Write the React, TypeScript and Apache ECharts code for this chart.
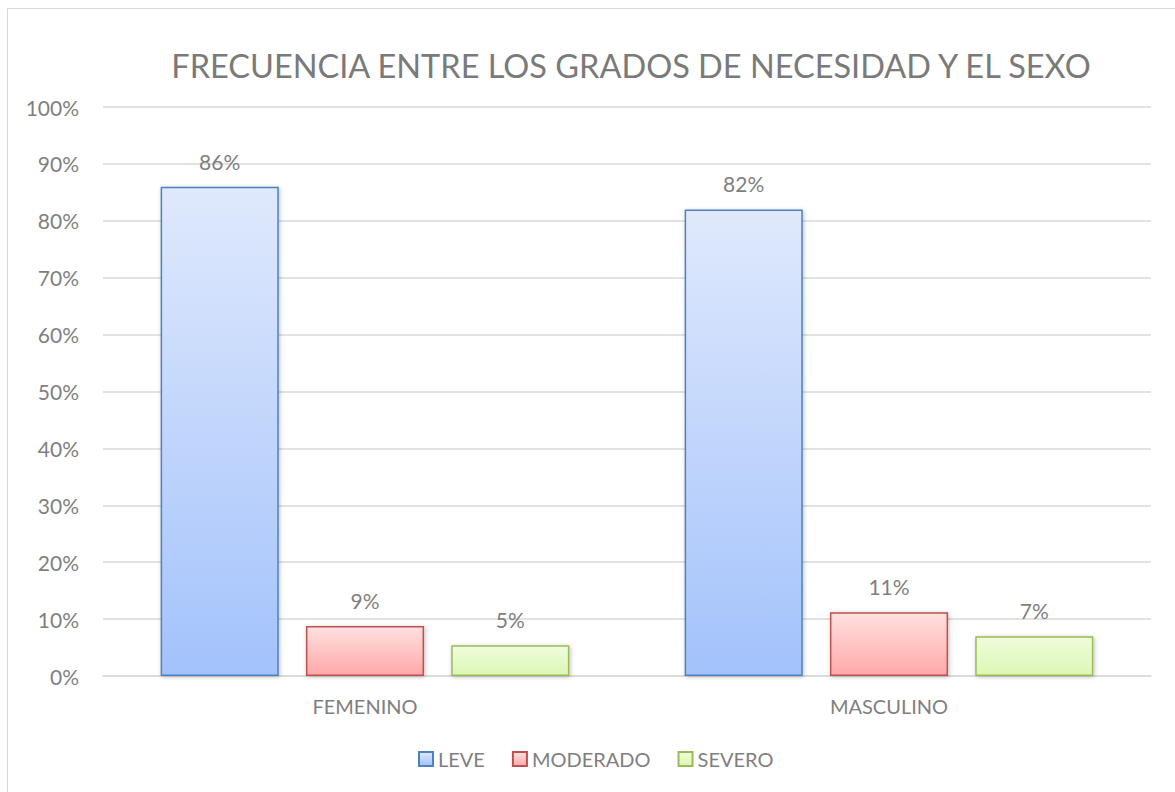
import React, { useEffect, useRef } from "react";
import * as echarts from "echarts";

const categories = ["FEMENINO", "MASCULINO"];
const leve = [86, 82];
const moderado = [8.8, 11.2];
const severo = [5.4, 7.0];
const yTicks = [0, 10, 20, 30, 40, 50, 60, 70, 80, 90, 100];
const title = "FRECUENCIA ENTRE LOS GRADOS DE NECESIDAD Y EL SEXO";

const FONT = "Lato, 'Open Sans', sans-serif";

function grad(top: string, bottom: string) {
  return new echarts.graphic.LinearGradient(0, 0, 0, 1, [
    { offset: 0, color: top },
    { offset: 1, color: bottom },
  ]);
}

export default function App() {
  const ref = useRef<HTMLDivElement>(null);
  useEffect(() => {
    if (!ref.current) return;
    const chart = echarts.init(ref.current, undefined, { renderer: "svg" });
    const label = {
      show: true,
      position: "top",
      distance: 15,
      color: "#7f7f7f",
      fontSize: 21,
      fontFamily: FONT,
      formatter: (p: any) => Math.round(p.value) + "%",
    };
    const shadow = {
      shadowBlur: 4,
      shadowColor: "rgba(0,0,0,0.25)",
      shadowOffsetX: 1,
      shadowOffsetY: 1,
    };
    const mk = (name: string, data: number[], top: string, bottom: string, border: string) => ({
      name,
      type: "bar",
      data,
      barGap: "23%",
      barCategoryGap: "22%",
      label,
      itemStyle: { color: grad(top, bottom), borderColor: border, borderWidth: 1.5, ...shadow },
    });
    chart.setOption({
      animation: false,
      backgroundColor: "#ffffff",
      title: {
        text: title,
        left: 626,
        textAlign: "center",
        top: 44,
        textStyle: { color: "#7a7a7a", fontSize: 32.5, fontWeight: "normal", fontFamily: FONT },
      },
      graphic: [
        {
          type: "rect",
          shape: { x: 7.5, y: 8.5, width: 1200, height: 800 },
          style: { fill: "none", stroke: "#d9d9d9", lineWidth: 1 },
          silent: true,
        },
      ],
      legend: {
        top: 749,
        left: 418,
        padding: 0,
        itemWidth: 14,
        itemHeight: 14,
        itemGap: 27,
        icon: "rect",
        textStyle: { color: "#7f7f7f", fontSize: 20, fontFamily: FONT },
      },
      grid: { left: 103, right: 24, top: 107, bottom: 116 },
      xAxis: {
        type: "category",
        data: categories,
        axisLine: { show: true, lineStyle: { color: "#d9d9d9", width: 1.5 } },
        axisTick: { show: false },
        axisLabel: { color: "#7f7f7f", fontSize: 20, fontFamily: FONT, margin: 20 },
      },
      yAxis: {
        type: "value",
        min: yTicks[0],
        max: yTicks[yTicks.length - 1],
        interval: 10,
        axisLine: { show: false },
        axisTick: { show: false },
        splitLine: { lineStyle: { color: "#d9d9d9", width: 1.5 } },
        axisLabel: { color: "#7f7f7f", fontSize: 21, fontFamily: FONT, margin: 24, formatter: "{value}%" },
      },
      series: [
        mk("LEVE", leve, "#dfe9fc", "#a3c2fb", "#4f81bd"),
        mk("MODERADO", moderado, "#ffe0e0", "#ffa8a8", "#c0504d"),
        mk("SEVERO", severo, "#f0fcdc", "#dcf7b4", "#9bbb59"),
      ],
    });
    return () => chart.dispose();
  }, []);
  return (
    <div
      ref={ref}
      style={{ position: "fixed", left: 0, top: 0, width: 1175, height: 792 }}
    />
  );
}
